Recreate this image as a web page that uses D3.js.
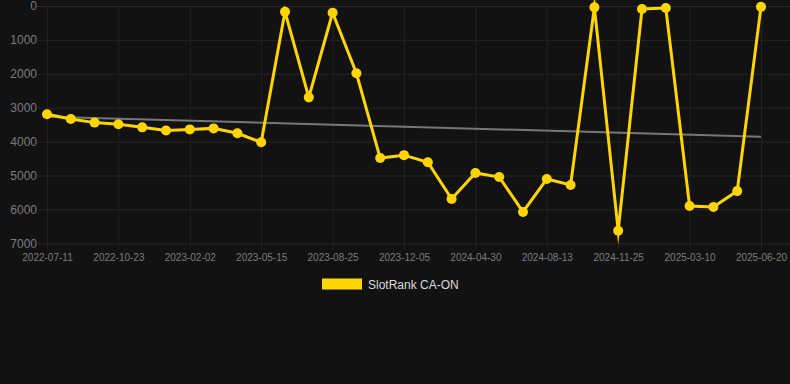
<!DOCTYPE html>
<html>
<head>
<meta charset="utf-8">
<script src="https://cdn.jsdelivr.net/npm/d3@7"></script>
<style>
  html, body { margin: 0; padding: 0; background: #121212; }
  svg { display: block; }
</style>
</head>
<body>
<svg id="chart" width="790" height="384"></svg>
<script>
// ---- data ----
const dates = [
  "2022-07-11","2022-08-14","2022-09-18","2022-10-23","2022-11-26","2022-12-30",
  "2023-02-02","2023-03-08","2023-04-11","2023-05-15","2023-06-18","2023-07-22",
  "2023-08-25","2023-09-30","2023-11-02","2023-12-05","2024-01-21","2024-03-14",
  "2024-04-30","2024-06-04","2024-07-09","2024-08-13","2024-09-16","2024-10-21",
  "2024-11-25","2024-12-29","2025-02-02","2025-03-10","2025-04-13","2025-05-17",
  "2025-06-20"
];
const rankValues = [
  3195, 3335, 3440, 3490, 3580, 3670, 3640, 3610, 3755, 4020,
  170, 2695, 200, 1985, 4485, 4400, 4610, 5690, 4925, 5045,
  6075, 5105, 5280, 40, 6630, 90, 60, 5900, 5930, 5460, 25
];
const trendValues = [3265, 3855]; // start / end of gray trend line
const tickDates = ["2022-07-11","2022-10-23","2023-02-02","2023-05-15","2023-08-25",
  "2023-12-05","2024-04-30","2024-08-13","2024-11-25","2025-03-10","2025-06-20"];
const yTicks = [0, 1000, 2000, 3000, 4000, 5000, 6000, 7000];
const seriesName = "SlotRank CA-ON";

// ---- layout ----
const W = 790, H = 384;
const mLeft = 47, mRight = 761, mTop = 6, mBottom = 243.3;
const gold = "#FFD500";
const font = "Arial, 'Liberation Sans', Helvetica, sans-serif";

const svg = d3.select("#chart");
svg.append("rect").attr("width", W).attr("height", H).attr("fill", "#121212");

const x = d3.scalePoint().domain(dates).range([mLeft, mRight]);
const y = d3.scaleLinear().domain([0, 7000]).range([mTop, mBottom]);

// horizontal grid + y labels
svg.append("g").selectAll("line").data(yTicks).join("line")
  .attr("x1", mLeft - 9).attr("x2", W)
  .attr("y1", d => y(d) + 0.5).attr("y2", d => y(d) + 0.5)
  .attr("stroke", "#262626").attr("stroke-width", 1);
const yAxis = d3.axisLeft(y).tickValues(yTicks).tickFormat(d3.format("d")).tickSize(0).tickPadding(10);
const gy = svg.append("g").attr("transform", `translate(${mLeft},0)`).call(yAxis);
gy.select(".domain").remove();
gy.selectAll("text").attr("fill", "#7c7c7c").style("font-family", font).style("font-size", "12px");

// vertical grid + x labels
svg.append("g").selectAll("line").data(tickDates).join("line")
  .attr("x1", d => x(d) + 0.5).attr("x2", d => x(d) + 0.5)
  .attr("y1", mTop).attr("y2", mBottom + 6)
  .attr("stroke", "#222").attr("stroke-width", 1);
const xAxis = d3.axisBottom(x).tickValues(tickDates).tickSize(0).tickPadding(11);
const gx = svg.append("g").attr("transform", `translate(0,${mBottom})`).call(xAxis);
gx.select(".domain").remove();
gx.selectAll("text").attr("fill", "#7c7c7c").style("font-family", font).style("font-size", "10px");

// trend line
svg.append("line")
  .attr("x1", x(dates[0])).attr("x2", x(dates[dates.length - 1]))
  .attr("y1", y(trendValues[0])).attr("y2", y(trendValues[1]))
  .attr("stroke", "#777").attr("stroke-width", 2);

// series line
const pts = dates.map((d, i) => [x(d), y(rankValues[i])]);
svg.append("path")
  .attr("d", d3.line()(pts))
  .attr("fill", "none").attr("stroke", gold).attr("stroke-width", 3)
  .attr("stroke-linejoin", "miter").attr("stroke-miterlimit", 10);
svg.append("g").selectAll("circle").data(pts).join("circle")
  .attr("cx", d => d[0]).attr("cy", d => d[1]).attr("r", 5)
  .attr("fill", gold);

// legend
const lg = svg.append("g");
lg.append("rect").attr("x", 322).attr("y", 278.5).attr("width", 40).attr("height", 11)
  .attr("fill", gold);
lg.append("text").attr("x", 368).attr("y", 288.5).text(seriesName)
  .attr("fill", "#dddddd").style("font-family", font).style("font-size", "12px");
</script>
</body>
</html>
